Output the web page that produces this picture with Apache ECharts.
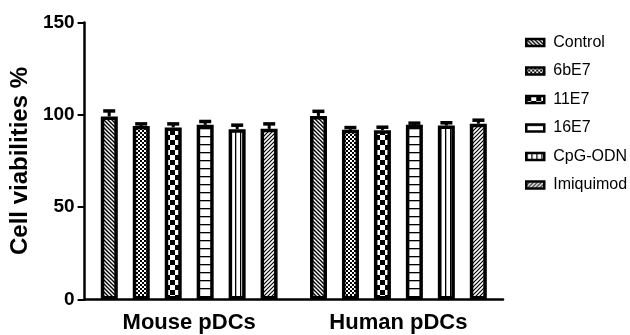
<!DOCTYPE html>
<html><head><meta charset="utf-8">
<script src="https://cdn.jsdelivr.net/npm/echarts@6/dist/echarts.min.js"></script>
<style>html,body{margin:0;padding:0;background:#fff}#c{width:630px;height:335px}</style>
</head><body><div id="c"></div>
<script>
const categories = ['Mouse pDCs', 'Human pDCs'];
const seriesNames = ['Control', '6bE7', '11E7', '16E7', 'CpG-ODN', 'Imiquimod'];
const control = [99.1, 99.4];
const b6bE7 = [94.0, 91.9];
const b11E7 = [93.2, 91.7];
const b16E7 = [94.6, 94.6];
const cpgOdn = [92.2, 94.2];
const imiquimod = [92.4, 95.2];
const controlErr = [3.0, 2.5];
const b6bE7Err = [1.1, 1.2];
const b11E7Err = [1.9, 1.6];
const b16E7Err = [1.8, 0.9];
const cpgOdnErr = [2.2, 1.5];
const imiquimodErr = [2.7, 1.9];
const yTicks = [0, 50, 100, 150];

const means = [control, b6bE7, b11E7, b16E7, cpgOdn, imiquimod];
const errs = [controlErr, b6bE7Err, b11E7Err, b16E7Err, cpgOdnErr, imiquimodErr];

function tile(w, h, draw) {
  const c = document.createElement('canvas');
  c.width = w; c.height = h;
  const ctx = c.getContext('2d');
  ctx.fillStyle = '#fff'; ctx.fillRect(0, 0, w, h);
  ctx.fillStyle = '#000'; ctx.strokeStyle = '#000';
  draw(ctx, w, h);
  return { image: c, repeat: 'repeat' };
}
const patterns = [
  tile(4, 4, (ctx) => { ctx.lineWidth = 1.4; ctx.beginPath();
    ctx.moveTo(-1, -1); ctx.lineTo(5, 5); ctx.moveTo(3, -1); ctx.lineTo(5, 1); ctx.moveTo(-1, 3); ctx.lineTo(1, 5); ctx.stroke(); }),
  tile(4, 4, (ctx) => { ctx.fillRect(0, 0, 2, 2); ctx.fillRect(2, 2, 2, 2); }),
  tile(10, 10, (ctx) => { ctx.fillRect(0, 0, 5, 5); ctx.fillRect(5, 5, 5, 5); }),
  tile(8, 8, (ctx) => { ctx.fillRect(0, 0, 8, 1.3); }),
  tile(5, 5, (ctx) => { ctx.fillRect(0, 0, 1.3, 5); }),
  tile(4, 4, (ctx) => { ctx.lineWidth = 1.2; ctx.beginPath();
    ctx.moveTo(-1, 5); ctx.lineTo(5, -1); ctx.moveTo(-1, 1); ctx.lineTo(1, -1); ctx.moveTo(3, 5); ctx.lineTo(5, 3); ctx.stroke(); })
];

const FONT = 'Liberation Sans, Arial, sans-serif';
const pitch = 32;
const series = [];
seriesNames.forEach((name, k) => {
  series.push({
    name: name, type: 'bar', barWidth: 17, barGap: '88%',
    data: means[k],
    itemStyle: { color: patterns[k], borderColor: '#000', borderWidth: 3.5 },
    emphasis: { disabled: true }, animation: false, z: 2
  });
});
seriesNames.forEach((name, k) => {
  series.push({
    name: name + ' err', type: 'custom', z: 5, animation: false, silent: true,
    data: categories.map((c, i) => [i, means[k][i], means[k][i] + errs[k][i]]),
    renderItem: function (params, api) {
      const p0 = api.coord([api.value(0), api.value(1)]);
      const p1 = api.coord([api.value(0), api.value(2)]);
      const x = p0[0] + (k - 2.5) * pitch;
      return { type: 'group', children: [
        { type: 'line', shape: { x1: x, y1: p0[1], x2: x, y2: p1[1] }, style: { stroke: '#000', lineWidth: 3 } },
        { type: 'line', shape: { x1: x - 6, y1: p1[1], x2: x + 6, y2: p1[1] }, style: { stroke: '#000', lineWidth: 3.5 } }
      ] };
    }
  });
});

const chart = echarts.init(document.getElementById('c'), null, { renderer: 'canvas' });
chart.setOption({
  animation: false,
  backgroundColor: '#fff',
  grid: { left: 83, right: 127, top: 22.5, bottom: 35.5, containLabel: false },
  legend: {
    data: seriesNames, orient: 'vertical', left: 520, top: 29.5,
    itemWidth: 18, itemHeight: 7, itemGap: 12.5, icon: 'rect',
    itemStyle: { borderWidth: 2.5, borderColor: '#000' },
    textStyle: { fontFamily: FONT, fontSize: 16, color: '#000', lineHeight: 16, padding: [0, 0, 0, 4] },
    selectedMode: false
  },
  xAxis: {
    type: 'category', data: categories,
    axisLine: { lineStyle: { color: '#000', width: 2.5 } },
    axisTick: { alignWithLabel: true, length: 6, lineStyle: { color: '#000', width: 2 } },
    axisLabel: { fontFamily: FONT, fontSize: 22, fontWeight: 'bold', color: '#000', margin: 12 }
  },
  yAxis: {
    type: 'value', min: yTicks[0], max: yTicks[yTicks.length - 1], interval: 50,
    name: 'Cell viabilities %', nameLocation: 'middle', nameGap: 51,
    nameTextStyle: { fontFamily: FONT, fontSize: 24, fontWeight: 'bold', color: '#000' },
    axisLine: { show: true, lineStyle: { color: '#000', width: 2.5 } },
    axisTick: { show: true, length: 7, lineStyle: { color: '#000', width: 2 } },
    splitLine: { show: false },
    axisLabel: { fontFamily: FONT, fontSize: 19, fontWeight: 'bold', color: '#000', margin: 10 }
  },
  series: series
});
</script></body></html>
